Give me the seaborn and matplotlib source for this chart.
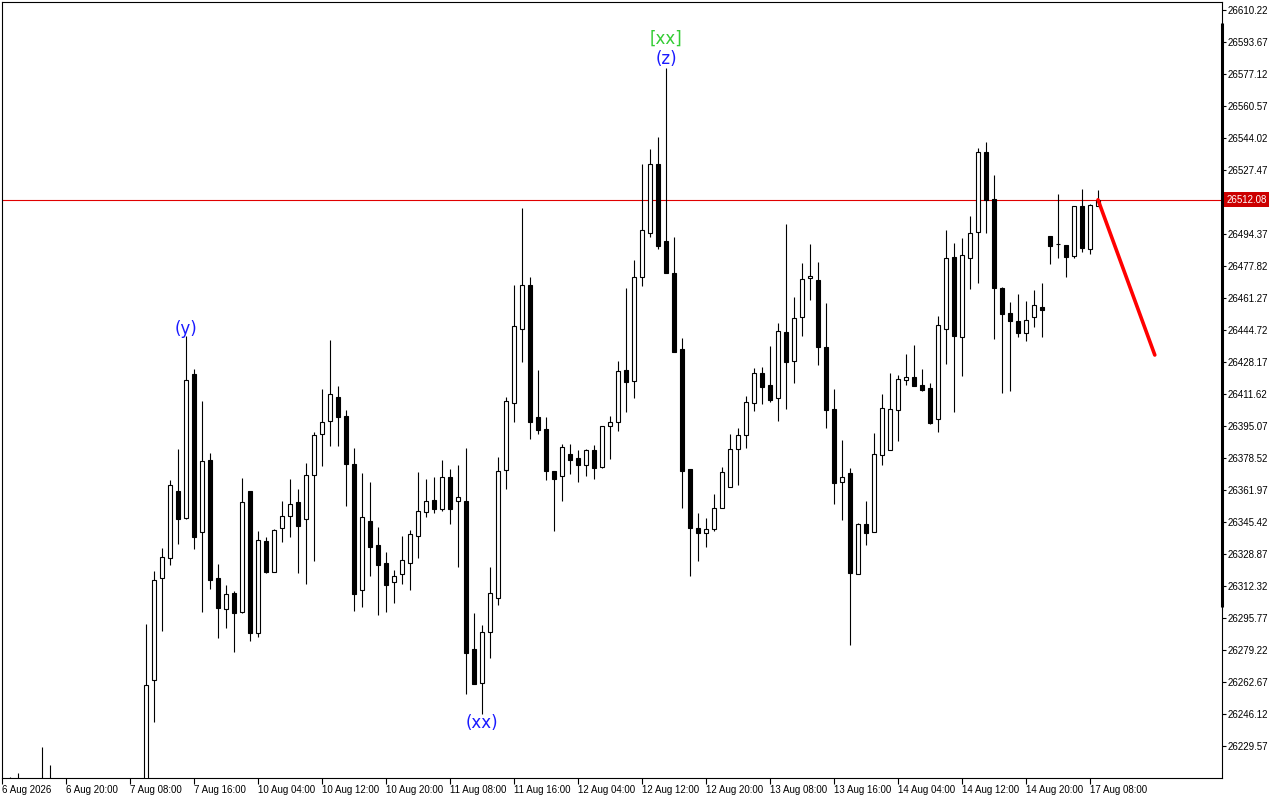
import matplotlib
matplotlib.use("Agg")
import matplotlib.pyplot as plt
import seaborn as sns
import pandas as pd

# H1 candles, index 0 = 6 Aug 2026 (first ones lie below the visible range)
opens = [26190, 26198, 26201, 26192, 26186, 26200, 26196, 26188, 26176, 26170,
         26164, 26172, 26180, 26174, 26166, 26178, 26186, 26192, 26200, 26263.7,
         26316.3, 26326.6, 26361.5, 26347.6, 26422.0, 26340.1, 26377.3, 26316.3, 26300.3, 26308.5,
         26299.0, 26361.5, 26287.9, 26335.6, 26319.7, 26342.2, 26348.5, 26355.8, 26346.8, 26369.6,
         26390.8, 26397.5, 26409.9, 26400.1, 26375.3, 26310.1, 26345.9, 26333.5, 26324.2, 26314.3,
         26318.4, 26324.1, 26338.0, 26350.4, 26356.7, 26351.9, 26368.8, 26356.1, 26356.3, 26279.7,
         26262.0, 26288.5, 26306.3, 26372.2, 26407.0, 26445.5, 26467.8, 26399.7, 26393.5, 26371.6,
         26369.1, 26380.8, 26378.3, 26375.1, 26382.5, 26374.1, 26395.3, 26396.9, 26424.0, 26418.5,
         26471.9, 26495.0, 26530.4, 26490.6, 26474.0, 26435.1, 26372.6, 26342.5, 26339.8, 26342.0,
         26352.9, 26363.7, 26383.0, 26390.3, 26406.8, 26422.3, 26416.1, 26409.4, 26443.5, 26428.5,
         26451.3, 26471.5, 26470.6, 26435.9, 26403.7, 26366.0, 26370.6, 26318.4, 26344.4, 26340.1,
         26379.9, 26382.6, 26403.2, 26418.7, 26420.2, 26416.3, 26414.7, 26398.5, 26445.4, 26482.5,
         26441.2, 26481.8, 26495.6, 26536.6, 26512.3, 26466.3, 26453.5, 26449.4, 26443.0, 26451.3,
         26456.5, 26493.2, 26489.0, 26488.5, 26483.1, 26508.7, 26486.5, 26509.0]
highs = [26205, 26213.5, 26215.8, 26208, 26206, 26229.2, 26219.7, 26204, 26195, 26188,
         26182, 26196, 26202, 26190, 26185, 26200, 26206, 26208, 26292.7, 26320.1,
         26332.0, 26367.1, 26383.2, 26441.8, 26424.5, 26408.2, 26381.0, 26323.7, 26312.8, 26309.9,
         26368.3, 26361.5, 26340.9, 26337.7, 26341.8, 26356.4, 26367.8, 26362.5, 26375.9, 26392.1,
         26414.4, 26439.5, 26415.8, 26403.3, 26383.7, 26370.8, 26366.1, 26342.8, 26329.9, 26320.7,
         26338.2, 26341.3, 26371.3, 26367.7, 26368.8, 26377.5, 26373.0, 26374.9, 26383.7, 26298.4,
         26292.4, 26322.3, 26378.8, 26410.1, 26468.0, 26507.7, 26471.9, 26424.0, 26399.7, 26371.6,
         26385.8, 26385.8, 26382.9, 26383.2, 26385.0, 26395.3, 26400.2, 26428.7, 26466.4, 26480.7,
         26530.4, 26538.6, 26544.8, 26580.5, 26492.8, 26440.5, 26372.6, 26350.1, 26347.3, 26359.7,
         26373.9, 26390.9, 26393.9, 26410.4, 26425.1, 26425.4, 26436.4, 26448.2, 26499.5, 26461.6,
         26479.4, 26489.2, 26479.9, 26458.7, 26414.2, 26387.8, 26373.3, 26345.1, 26356.3, 26391.6,
         26411.6, 26422.5, 26421.4, 26432.3, 26437.0, 26424.5, 26417.2, 26452.0, 26496.4, 26489.7,
         26492.3, 26503.7, 26538.7, 26541.8, 26524.9, 26467.1, 26459.0, 26463.3, 26459.7, 26465.4,
         26468.9, 26493.2, 26515.0, 26488.5, 26508.7, 26517.6, 26509.9, 26517.1]
lows = [26180, 26188, 26186, 26178, 26174, 26190, 26182, 26168, 26160, 26152,
        26148, 26160, 26166, 26158, 26150, 26168, 26172, 26180, 26190, 26242.1,
        26289.2, 26323.2, 26334.2, 26347.1, 26331.6, 26299.0, 26310.6, 26285.3, 26290.8, 26278.3,
        26298.2, 26284.0, 26286.1, 26319.2, 26319.7, 26335.2, 26337.8, 26319.2, 26313.5, 26325.4,
        26374.5, 26384.9, 26384.9, 26353.8, 26299.5, 26301.3, 26317.7, 26297.1, 26299.1, 26303.6,
        26313.6, 26310.4, 26327.0, 26348.1, 26350.1, 26351.3, 26344.2, 26321.9, 26256.5, 26261.4,
        26246.3, 26275.1, 26302.7, 26362.4, 26397.1, 26428.4, 26388.2, 26391.0, 26367.3, 26341.0,
        26356.3, 26370.1, 26366.3, 26369.2, 26367.8, 26373.5, 26378.0, 26392.6, 26402.3, 26409.5,
        26467.7, 26492.6, 26486.8, 26474.0, 26433.4, 26352.9, 26317.5, 26325.3, 26332.4, 26340.6,
        26352.9, 26363.7, 26364.6, 26383.8, 26403.0, 26406.6, 26407.6, 26397.8, 26404.0, 26417.2,
        26441.8, 26460.4, 26426.8, 26394.2, 26354.9, 26346.4, 26282.0, 26318.4, 26333.4, 26340.1,
        26375.1, 26382.6, 26387.5, 26416.1, 26415.9, 26413.3, 26396.1, 26392.1, 26427.1, 26402.5,
        26420.9, 26465.9, 26469.2, 26495.0, 26440.1, 26412.3, 26413.3, 26441.2, 26439.2, 26446.1,
        26441.2, 26479.0, 26482.1, 26472.3, 26482.1, 26485.2, 26484.2, 26509.0]
closes = [26198, 26201, 26192, 26186, 26200, 26196, 26188, 26176, 26170, 26164,
          26172, 26180, 26174, 26166, 26178, 26186, 26192, 26200, 26261.1, 26315.4,
          26327.3, 26364.4, 26347.1, 26418.9, 26337.8, 26376.8, 26315.3, 26300.8, 26308.0, 26298.2,
          26355.8, 26287.9, 26336.1, 26319.7, 26341.3, 26348.5, 26354.6, 26343.5, 26369.6, 26390.4,
          26397.0, 26411.5, 26399.6, 26375.3, 26308.3, 26347.9, 26332.6, 26323.4, 26313.0, 26317.3,
          26325.7, 26339.2, 26351.0, 26356.1, 26351.9, 26368.8, 26351.9, 26358.3, 26277.4, 26261.7,
          26288.5, 26308.6, 26371.6, 26407.8, 26446.6, 26467.8, 26397.3, 26392.8, 26371.6, 26367.9,
          26384.1, 26377.7, 26375.1, 26382.5, 26373.5, 26395.3, 26397.1, 26423.3, 26417.9, 26472.4,
          26496.7, 26530.4, 26488.3, 26474.0, 26433.4, 26372.0, 26342.5, 26339.8, 26342.0, 26352.9,
          26371.3, 26383.0, 26390.3, 26407.3, 26422.3, 26415.4, 26408.7, 26444.0, 26428.3, 26450.8,
          26470.9, 26472.5, 26436.1, 26403.5, 26365.7, 26368.5, 26318.9, 26344.4, 26339.6, 26380.4,
          26404.2, 26403.7, 26419.4, 26420.2, 26415.9, 26413.8, 26396.8, 26447.1, 26481.8, 26441.8,
          26483.4, 26494.7, 26536.6, 26512.0, 26466.6, 26452.8, 26449.5, 26443.3, 26449.7, 26457.5,
          26454.9, 26488.3, 26489.0, 26482.6, 26508.7, 26487.0, 26509.2, 26512.08]

time_labels = ["6 Aug 2026", "6 Aug 20:00", "7 Aug 08:00", "7 Aug 16:00", "10 Aug 04:00",
               "10 Aug 12:00", "10 Aug 20:00", "11 Aug 08:00", "11 Aug 16:00", "12 Aug 04:00",
               "12 Aug 12:00", "12 Aug 20:00", "13 Aug 08:00", "13 Aug 16:00", "14 Aug 04:00",
               "14 Aug 12:00", "14 Aug 20:00", "17 Aug 08:00"]
price_ticks = [26610.22, 26593.67, 26577.12, 26560.57, 26544.02, 26527.47, 26494.37,
               26477.82, 26461.27, 26444.72, 26428.17, 26411.62, 26395.07, 26378.52,
               26361.97, 26345.42, 26328.87, 26312.32, 26295.77, 26279.22, 26262.67,
               26246.12, 26229.57]
bid_price = 26512.08

# projected move drawn from the last bar
forecast_bars = [137, 144.1]
forecast_prices = [26512.08, 26431.8]

# wave marks: bar, text, anchored at high or low
wave_bars = [23, 60, 83, 83]
wave_texts = ["(y)", "(xx)", "(z)", "[xx]"]
wave_sides = ["high", "low", "high", "high"]

sns.set_theme(style="ticks")
plt.rcParams['font.family'] = ['Liberation Sans', 'DejaVu Sans']

df = pd.DataFrame({"o": opens, "h": highs, "l": lows, "c": closes})
df["bar"] = range(len(df))
up = df.c >= df.o

fig = plt.figure(figsize=(12.8, 8), dpi=100)
ax = fig.add_axes([2 / 1280, 22 / 800, 1220 / 1280, 776 / 800])
ax.set_facecolor("white")

ax.axhline(bid_price, color="#e00000", lw=0.8, zorder=1)
ax.vlines(df.bar, df.l, df.h, color="black", lw=0.8, zorder=2)
ax.bar(df.bar[up], (df.c - df.o)[up], bottom=df.o[up], width=0.5,
       facecolor="white", edgecolor="black", lw=0.8, zorder=3)
ax.bar(df.bar[~up], (df.o - df.c)[~up], bottom=df.c[~up], width=0.5,
       facecolor="black", edgecolor="black", lw=0.8, zorder=3)
sns.lineplot(x=forecast_bars, y=forecast_prices, color="#ff0000", lw=2.6, ax=ax, zorder=4)

# wave labels
styles = {"(y)": ("#1a1aff", 5.0), "(xx)": ("#1a1aff", -6.7),
          "(z)": ("#1a1aff", 5.9), "[xx]": ("#33cc33", 20.5)}
for b, t, side in zip(wave_bars, wave_texts, wave_sides):
    color, dy = styles[t]
    yv = df.h[b] if side == "high" else df.l[b]
    ax.annotate(t, xy=(b, yv), xytext=(0, dy), textcoords="offset points",
                ha="center", va="center", fontsize=12, color=color,
                family="DejaVu Sans", zorder=5)

ax.set_xlim(0, 152.5)
ax.set_ylim(26213.0, 26614.4)

ax.yaxis.tick_right()
ax.set_yticks(price_ticks)
ax.set_yticklabels([f"{v:.2f}" for v in price_ticks])
ax.set_xticks(range(0, 8 * len(time_labels), 8))
ax.set_xticklabels(time_labels, ha="left")
ax.tick_params(axis="x", direction="out", length=4, width=0.8, pad=1,
               labelsize=7, colors="black", bottom=True)
ax.tick_params(axis="y", direction="out", length=3, width=0.8, pad=1,
               labelsize=7, colors="black", right=True, left=False)
for s in ax.spines.values():
    s.set_visible(True)
    s.set_color("black")
    s.set_linewidth(0.8)
ax.plot([1, 1], [0.22, 0.973], transform=ax.transAxes, color="black", lw=2.2,
        clip_on=False, solid_capstyle="butt")

# bid price tag on the price scale
ax.text(1.0035, bid_price, f"{bid_price:.2f}", transform=ax.get_yaxis_transform(),
        ha="left", va="center", fontsize=7, color="white", clip_on=False,
        bbox=dict(boxstyle="square,pad=0.25", fc="#cc0000", ec="none"))

fig.savefig("out.png", dpi=100, facecolor="white")
